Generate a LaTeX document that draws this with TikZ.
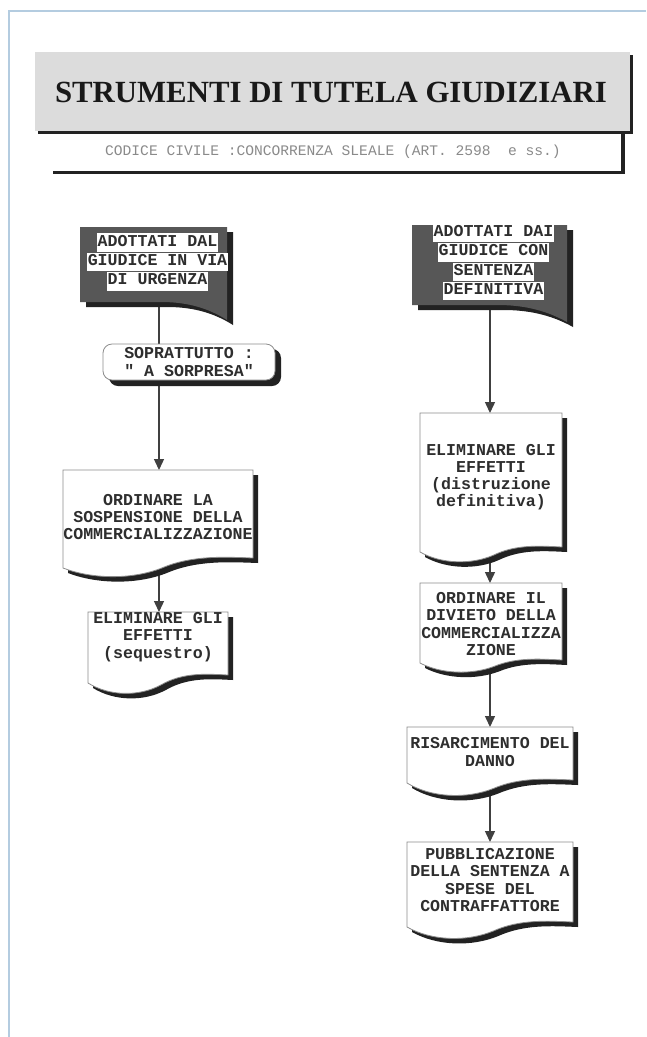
\documentclass[tikz,border=0pt]{standalone}
\usepackage{fontspec}
\setmainfont{Liberation Serif}
\setmonofont{Liberation Mono}
\usetikzlibrary{arrows.meta}
\definecolor{framec}{HTML}{B4CCE0}
\definecolor{titlegray}{HTML}{DCDCDC}
\definecolor{darkboxc}{HTML}{575757}
\definecolor{inkc}{HTML}{2E2E2E}
\definecolor{subc}{HTML}{8A8A8A}
\definecolor{shadowc}{HTML}{222222}
\newcommand\hlline[1]{{\setlength\fboxsep{0.6pt}\colorbox{white}{\strut #1}}}
% dark header box: name, x0, y0, x1, yb, yr, texty, text
\newcommand\darkbox[8]{%
  \begin{scope}[shift={(6,5)}]
    \fill[shadowc] (#2,#3) -- (#4,#3) -- (#4,#6) .. controls ({#4-0.15*(#4-#2)},{#5+4}) and ({#2+0.7*(#4-#2)},#5) .. ({#2+0.55*(#4-#2)},#5) -- (#2,#5) -- cycle;
  \end{scope}
  \fill[darkboxc] (#2,#3) -- (#4,#3) -- (#4,#6) .. controls ({#4-0.15*(#4-#2)},{#5+4}) and ({#2+0.7*(#4-#2)},#5) .. ({#2+0.55*(#4-#2)},#5) -- (#2,#5) -- cycle;
  \node[boxtext] (#1) at ({(#2+#4)/2+4},#7) {#8};
}
% document box: name, x0, y0, x1, yb, yd, ye, texty, text
\newcommand\docbox[9]{%
  \begin{scope}[shift={(5,5)}]
    \fill[shadowc] (#2,#3) -- (#4,#3) -- (#4,#7) .. controls ({#2+0.85*(#4-#2)},{#7-1}) and ({#2+0.68*(#4-#2)},{#7-3}) .. ({#2+0.52*(#4-#2)},{(#6+#7)/2}) .. controls ({#2+0.36*(#4-#2)},{#6+2}) and ({#2+0.15*(#4-#2)},{#6+1}) .. (#2,#5) -- cycle;
  \end{scope}
  \filldraw[fill=white, draw=black!45, line width=0.8] (#2,#3) -- (#4,#3) -- (#4,#7) .. controls ({#2+0.85*(#4-#2)},{#7-1}) and ({#2+0.68*(#4-#2)},{#7-3}) .. ({#2+0.52*(#4-#2)},{(#6+#7)/2}) .. controls ({#2+0.36*(#4-#2)},{#6+2}) and ({#2+0.15*(#4-#2)},{#6+1}) .. (#2,#5) -- cycle;
  \node[boxtext] (#1) at ({(#2+#4)/2},#8) {#9};
}
\tikzset{
  boxtext/.style={font=\ttfamily\bfseries\fontsize{16.6}{17.2}\selectfont, text=inkc, align=center, inner sep=0pt},
  conn/.style={draw=black!75, line width=1.4},
  arr/.style={conn, -{Triangle[length=11pt,width=10pt]}},
}
\begin{document}
\begin{tikzpicture}[x=1pt,y=-1pt]
\useasboundingbox[fill=white] (0,0) rectangle (646,1037);
% page frame
\draw[framec, line width=1.6] (9,1037) -- (9,11) -- (646,11);
% title
\fill[shadowc] (38,55) rectangle (633,134);
\fill[titlegray] (35,52) rectangle (630,131);
\node[font=\bfseries\fontsize{30.8}{34}\selectfont, text=black!90, inner sep=0] (title) at (331,92) {STRUMENTI DI TUTELA GIUDIZIARI};
\fill[shadowc] (621,131) rectangle (625,174);
\fill[shadowc] (53,171) rectangle (625,174);
\node[font=\ttfamily\fontsize{14.6}{16}\selectfont, text=subc, inner sep=0] (subtitle) at (333,152) {CODICE CIVILE :CONCORRENZA SLEALE (ART. 2598\ \ e ss.)};
% connector end points
\coordinate (a1b) at (159,305);
\coordinate (rbt) at (159,344);
\coordinate (rbb) at (159,380);
\coordinate (a3t) at (159,470);
\coordinate (a3b) at (159,572);
\coordinate (a4t) at (159,612);
\coordinate (b1b) at (490,308);
\coordinate (b2t) at (490,413);
\coordinate (b2b) at (490,556);
\coordinate (b3t) at (490,583);
\coordinate (b3b) at (490,668);
\coordinate (b4t) at (490,727);
\coordinate (b4b) at (490,790);
\coordinate (b5t) at (490,842);
% connectors
\draw[conn] (a1b) -- (rbt);
\draw[arr] (rbb) -- (a3t);
\draw[arr] (a3b) -- (a4t);
\draw[arr] (b1b) -- (b2t);
\draw[arr] (b2b) -- (b3t);
\draw[arr] (b3b) -- (b4t);
\draw[arr] (b4b) -- (b5t);
% left column
\darkbox{a1}{80}{227}{227}{302}{320}{262}{\hlline{ADOTTATI DAL}\\\hlline{GIUDICE IN VIA}\\\hlline{DI URGENZA}}
\fill[shadowc, rounded corners=9] (109,349) rectangle (281,386);
\filldraw[fill=white, draw=black!45, line width=0.8, rounded corners=9] (103,344) rectangle (275,380);
\node[boxtext] (rb) at (189,362) {SOPRATTUTTO :\\" A SORPRESA"};
\docbox{a3}{63}{470}{253}{568}{578}{558}{517}{ORDINARE LA\\SOSPENSIONE DELLA\\COMMERCIALIZZAZIONE}
\docbox{a4}{88}{612}{228}{683}{695}{675}{637}{ELIMINARE GLI\\EFFETTI\\(sequestro)}
% right column
\darkbox{b1}{412}{225}{567}{305}{322}{262}{\hlline{ADOTTATI DAI}\\\hlline{GIUDICE CON}\\\hlline{SENTENZA}\\\hlline{DEFINITIVA}}
\docbox{b2}{420}{413}{562}{552}{563}{547}{477}{ELIMINARE GLI\\EFFETTI\\(distruzione\\definitiva)}
\docbox{b3}{420}{583}{562}{663}{673}{660}{624}{ORDINARE IL\\DIVIETO DELLA\\COMMERCIALIZZA\\ZIONE}
\docbox{b4}{407}{727}{573}{783}{797}{780}{752}{RISARCIMENTO DEL\\DANNO}
\docbox{b5}{407}{842}{573}{927}{940}{922}{880}{PUBBLICAZIONE\\DELLA SENTENZA A\\SPESE DEL\\CONTRAFFATTORE}
\end{tikzpicture}
\end{document}
